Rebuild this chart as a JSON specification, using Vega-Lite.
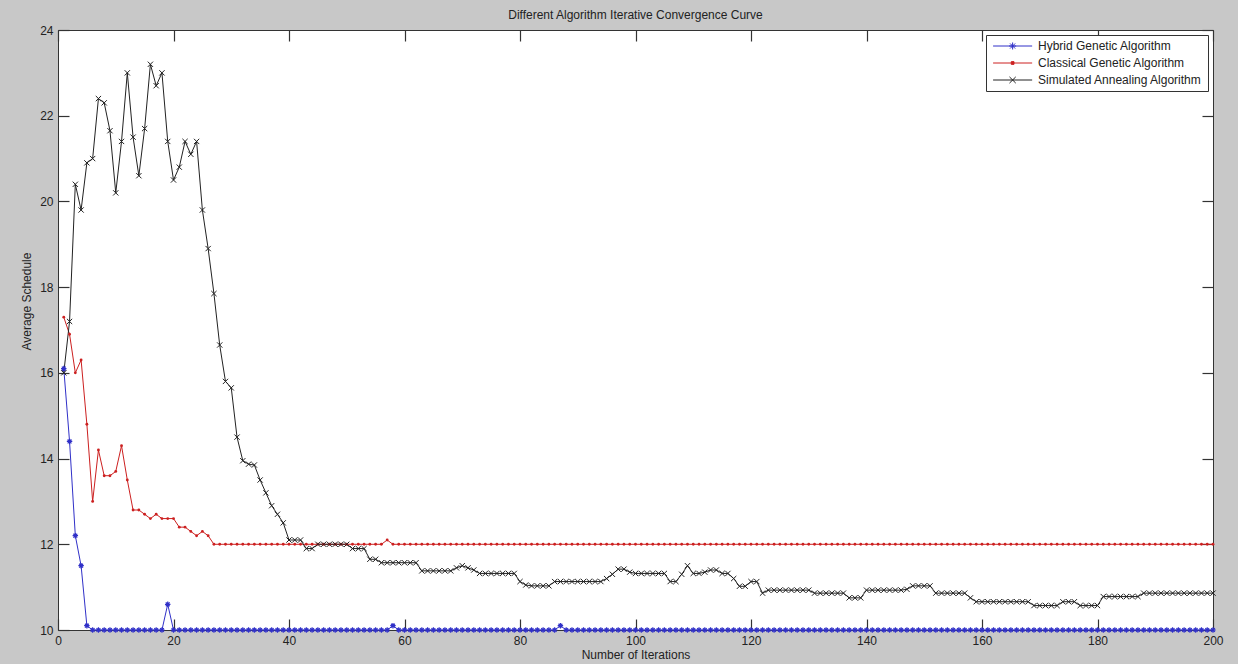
{
  "$schema": "https://vega.github.io/schema/vega-lite/v6.json",
  "width": 1155,
  "height": 600,
  "autosize": {"type": "none"},
  "padding": {"left": 58, "top": 30, "right": 25, "bottom": 34},
  "background": "#c8c8c8",
  "config": {
    "font": "Liberation Sans",
    "view": {"fill": "white", "stroke": "#333333", "strokeWidth": 1},
    "axis": {"ticks": true, "tickWidth": 1.2, "tickColor": "#333333", "tickOpacity": 1, "zindex": 1}
  },
  "title": {
    "text": "Different Algorithm Iterative Convergence Curve",
    "fontSize": 12,
    "fontWeight": "normal",
    "color": "#222222",
    "offset": 2,
    "anchor": "middle"
  },
  "data": {"values": [
    {"i":1,"hga":16.1,"cga":17.3,"saa":16.0},
    {"i":2,"hga":14.4,"cga":16.9,"saa":17.2},
    {"i":3,"hga":12.2,"cga":16.0,"saa":20.4},
    {"i":4,"hga":11.5,"cga":16.3,"saa":19.8},
    {"i":5,"hga":10.1,"cga":14.8,"saa":20.9},
    {"i":6,"hga":10,"cga":13.0,"saa":21.0},
    {"i":7,"hga":10,"cga":14.2,"saa":22.4},
    {"i":8,"hga":10,"cga":13.6,"saa":22.3},
    {"i":9,"hga":10,"cga":13.6,"saa":21.65},
    {"i":10,"hga":10,"cga":13.7,"saa":20.2},
    {"i":11,"hga":10,"cga":14.3,"saa":21.4},
    {"i":12,"hga":10,"cga":13.5,"saa":23.0},
    {"i":13,"hga":10,"cga":12.8,"saa":21.5},
    {"i":14,"hga":10,"cga":12.8,"saa":20.6},
    {"i":15,"hga":10,"cga":12.7,"saa":21.7},
    {"i":16,"hga":10,"cga":12.6,"saa":23.2},
    {"i":17,"hga":10,"cga":12.7,"saa":22.7},
    {"i":18,"hga":10,"cga":12.6,"saa":23.0},
    {"i":19,"hga":10.6,"cga":12.6,"saa":21.4},
    {"i":20,"hga":10,"cga":12.6,"saa":20.5},
    {"i":21,"hga":10,"cga":12.4,"saa":20.8},
    {"i":22,"hga":10,"cga":12.4,"saa":21.4},
    {"i":23,"hga":10,"cga":12.3,"saa":21.1},
    {"i":24,"hga":10,"cga":12.2,"saa":21.4},
    {"i":25,"hga":10,"cga":12.3,"saa":19.8},
    {"i":26,"hga":10,"cga":12.2,"saa":18.9},
    {"i":27,"hga":10,"cga":12.0,"saa":17.85},
    {"i":28,"hga":10,"cga":12,"saa":16.65},
    {"i":29,"hga":10,"cga":12,"saa":15.8},
    {"i":30,"hga":10,"cga":12,"saa":15.65},
    {"i":31,"hga":10,"cga":12,"saa":14.5},
    {"i":32,"hga":10,"cga":12,"saa":13.95},
    {"i":33,"hga":10,"cga":12,"saa":13.87},
    {"i":34,"hga":10,"cga":12,"saa":13.85},
    {"i":35,"hga":10,"cga":12,"saa":13.5},
    {"i":36,"hga":10,"cga":12,"saa":13.2},
    {"i":37,"hga":10,"cga":12,"saa":12.9},
    {"i":38,"hga":10,"cga":12,"saa":12.7},
    {"i":39,"hga":10,"cga":12,"saa":12.5},
    {"i":40,"hga":10,"cga":12,"saa":12.1},
    {"i":41,"hga":10,"cga":12,"saa":12.1},
    {"i":42,"hga":10,"cga":12,"saa":12.1},
    {"i":43,"hga":10,"cga":12,"saa":11.9},
    {"i":44,"hga":10,"cga":12,"saa":11.9},
    {"i":45,"hga":10,"cga":12,"saa":12.0},
    {"i":46,"hga":10,"cga":12,"saa":12.0},
    {"i":47,"hga":10,"cga":12,"saa":12.0},
    {"i":48,"hga":10,"cga":12,"saa":12.0},
    {"i":49,"hga":10,"cga":12,"saa":12.0},
    {"i":50,"hga":10,"cga":12,"saa":12.0},
    {"i":51,"hga":10,"cga":12,"saa":11.9},
    {"i":52,"hga":10,"cga":12,"saa":11.9},
    {"i":53,"hga":10,"cga":12,"saa":11.9},
    {"i":54,"hga":10,"cga":12,"saa":11.65},
    {"i":55,"hga":10,"cga":12,"saa":11.65},
    {"i":56,"hga":10,"cga":12,"saa":11.57},
    {"i":57,"hga":10,"cga":12.1,"saa":11.57},
    {"i":58,"hga":10.1,"cga":12,"saa":11.57},
    {"i":59,"hga":10,"cga":12,"saa":11.57},
    {"i":60,"hga":10,"cga":12,"saa":11.57},
    {"i":61,"hga":10,"cga":12,"saa":11.57},
    {"i":62,"hga":10,"cga":12,"saa":11.57},
    {"i":63,"hga":10,"cga":12,"saa":11.38},
    {"i":64,"hga":10,"cga":12,"saa":11.38},
    {"i":65,"hga":10,"cga":12,"saa":11.38},
    {"i":66,"hga":10,"cga":12,"saa":11.38},
    {"i":67,"hga":10,"cga":12,"saa":11.38},
    {"i":68,"hga":10,"cga":12,"saa":11.38},
    {"i":69,"hga":10,"cga":12,"saa":11.45},
    {"i":70,"hga":10,"cga":12,"saa":11.5},
    {"i":71,"hga":10,"cga":12,"saa":11.45},
    {"i":72,"hga":10,"cga":12,"saa":11.4},
    {"i":73,"hga":10,"cga":12,"saa":11.32},
    {"i":74,"hga":10,"cga":12,"saa":11.32},
    {"i":75,"hga":10,"cga":12,"saa":11.32},
    {"i":76,"hga":10,"cga":12,"saa":11.32},
    {"i":77,"hga":10,"cga":12,"saa":11.32},
    {"i":78,"hga":10,"cga":12,"saa":11.32},
    {"i":79,"hga":10,"cga":12,"saa":11.32},
    {"i":80,"hga":10,"cga":12,"saa":11.13},
    {"i":81,"hga":10,"cga":12,"saa":11.05},
    {"i":82,"hga":10,"cga":12,"saa":11.03},
    {"i":83,"hga":10,"cga":12,"saa":11.03},
    {"i":84,"hga":10,"cga":12,"saa":11.03},
    {"i":85,"hga":10,"cga":12,"saa":11.03},
    {"i":86,"hga":10,"cga":12,"saa":11.13},
    {"i":87,"hga":10.1,"cga":12,"saa":11.13},
    {"i":88,"hga":10,"cga":12,"saa":11.13},
    {"i":89,"hga":10,"cga":12,"saa":11.13},
    {"i":90,"hga":10,"cga":12,"saa":11.13},
    {"i":91,"hga":10,"cga":12,"saa":11.13},
    {"i":92,"hga":10,"cga":12,"saa":11.13},
    {"i":93,"hga":10,"cga":12,"saa":11.13},
    {"i":94,"hga":10,"cga":12,"saa":11.13},
    {"i":95,"hga":10,"cga":12,"saa":11.2},
    {"i":96,"hga":10,"cga":12,"saa":11.3},
    {"i":97,"hga":10,"cga":12,"saa":11.42},
    {"i":98,"hga":10,"cga":12,"saa":11.42},
    {"i":99,"hga":10,"cga":12,"saa":11.35},
    {"i":100,"hga":10,"cga":12,"saa":11.32},
    {"i":101,"hga":10,"cga":12,"saa":11.32},
    {"i":102,"hga":10,"cga":12,"saa":11.32},
    {"i":103,"hga":10,"cga":12,"saa":11.32},
    {"i":104,"hga":10,"cga":12,"saa":11.32},
    {"i":105,"hga":10,"cga":12,"saa":11.32},
    {"i":106,"hga":10,"cga":12,"saa":11.13},
    {"i":107,"hga":10,"cga":12,"saa":11.13},
    {"i":108,"hga":10,"cga":12,"saa":11.3},
    {"i":109,"hga":10,"cga":12,"saa":11.5},
    {"i":110,"hga":10,"cga":12,"saa":11.32},
    {"i":111,"hga":10,"cga":12,"saa":11.32},
    {"i":112,"hga":10,"cga":12,"saa":11.35},
    {"i":113,"hga":10,"cga":12,"saa":11.4},
    {"i":114,"hga":10,"cga":12,"saa":11.4},
    {"i":115,"hga":10,"cga":12,"saa":11.32},
    {"i":116,"hga":10,"cga":12,"saa":11.32},
    {"i":117,"hga":10,"cga":12,"saa":11.2},
    {"i":118,"hga":10,"cga":12,"saa":11.02},
    {"i":119,"hga":10,"cga":12,"saa":11.02},
    {"i":120,"hga":10,"cga":12,"saa":11.13},
    {"i":121,"hga":10,"cga":12,"saa":11.13},
    {"i":122,"hga":10,"cga":12,"saa":10.86},
    {"i":123,"hga":10,"cga":12,"saa":10.93},
    {"i":124,"hga":10,"cga":12,"saa":10.93},
    {"i":125,"hga":10,"cga":12,"saa":10.93},
    {"i":126,"hga":10,"cga":12,"saa":10.93},
    {"i":127,"hga":10,"cga":12,"saa":10.93},
    {"i":128,"hga":10,"cga":12,"saa":10.93},
    {"i":129,"hga":10,"cga":12,"saa":10.93},
    {"i":130,"hga":10,"cga":12,"saa":10.93},
    {"i":131,"hga":10,"cga":12,"saa":10.86},
    {"i":132,"hga":10,"cga":12,"saa":10.86},
    {"i":133,"hga":10,"cga":12,"saa":10.86},
    {"i":134,"hga":10,"cga":12,"saa":10.86},
    {"i":135,"hga":10,"cga":12,"saa":10.86},
    {"i":136,"hga":10,"cga":12,"saa":10.86},
    {"i":137,"hga":10,"cga":12,"saa":10.75},
    {"i":138,"hga":10,"cga":12,"saa":10.75},
    {"i":139,"hga":10,"cga":12,"saa":10.75},
    {"i":140,"hga":10,"cga":12,"saa":10.93},
    {"i":141,"hga":10,"cga":12,"saa":10.93},
    {"i":142,"hga":10,"cga":12,"saa":10.93},
    {"i":143,"hga":10,"cga":12,"saa":10.93},
    {"i":144,"hga":10,"cga":12,"saa":10.93},
    {"i":145,"hga":10,"cga":12,"saa":10.93},
    {"i":146,"hga":10,"cga":12,"saa":10.93},
    {"i":147,"hga":10,"cga":12,"saa":10.95},
    {"i":148,"hga":10,"cga":12,"saa":11.03},
    {"i":149,"hga":10,"cga":12,"saa":11.03},
    {"i":150,"hga":10,"cga":12,"saa":11.03},
    {"i":151,"hga":10,"cga":12,"saa":11.03},
    {"i":152,"hga":10,"cga":12,"saa":10.86},
    {"i":153,"hga":10,"cga":12,"saa":10.86},
    {"i":154,"hga":10,"cga":12,"saa":10.86},
    {"i":155,"hga":10,"cga":12,"saa":10.86},
    {"i":156,"hga":10,"cga":12,"saa":10.86},
    {"i":157,"hga":10,"cga":12,"saa":10.86},
    {"i":158,"hga":10,"cga":12,"saa":10.75},
    {"i":159,"hga":10,"cga":12,"saa":10.66},
    {"i":160,"hga":10,"cga":12,"saa":10.66},
    {"i":161,"hga":10,"cga":12,"saa":10.66},
    {"i":162,"hga":10,"cga":12,"saa":10.66},
    {"i":163,"hga":10,"cga":12,"saa":10.66},
    {"i":164,"hga":10,"cga":12,"saa":10.66},
    {"i":165,"hga":10,"cga":12,"saa":10.66},
    {"i":166,"hga":10,"cga":12,"saa":10.66},
    {"i":167,"hga":10,"cga":12,"saa":10.66},
    {"i":168,"hga":10,"cga":12,"saa":10.66},
    {"i":169,"hga":10,"cga":12,"saa":10.57},
    {"i":170,"hga":10,"cga":12,"saa":10.57},
    {"i":171,"hga":10,"cga":12,"saa":10.57},
    {"i":172,"hga":10,"cga":12,"saa":10.57},
    {"i":173,"hga":10,"cga":12,"saa":10.57},
    {"i":174,"hga":10,"cga":12,"saa":10.66},
    {"i":175,"hga":10,"cga":12,"saa":10.66},
    {"i":176,"hga":10,"cga":12,"saa":10.66},
    {"i":177,"hga":10,"cga":12,"saa":10.57},
    {"i":178,"hga":10,"cga":12,"saa":10.57},
    {"i":179,"hga":10,"cga":12,"saa":10.57},
    {"i":180,"hga":10,"cga":12,"saa":10.57},
    {"i":181,"hga":10,"cga":12,"saa":10.78},
    {"i":182,"hga":10,"cga":12,"saa":10.78},
    {"i":183,"hga":10,"cga":12,"saa":10.78},
    {"i":184,"hga":10,"cga":12,"saa":10.78},
    {"i":185,"hga":10,"cga":12,"saa":10.78},
    {"i":186,"hga":10,"cga":12,"saa":10.78},
    {"i":187,"hga":10,"cga":12,"saa":10.78},
    {"i":188,"hga":10,"cga":12,"saa":10.86},
    {"i":189,"hga":10,"cga":12,"saa":10.86},
    {"i":190,"hga":10,"cga":12,"saa":10.86},
    {"i":191,"hga":10,"cga":12,"saa":10.86},
    {"i":192,"hga":10,"cga":12,"saa":10.86},
    {"i":193,"hga":10,"cga":12,"saa":10.86},
    {"i":194,"hga":10,"cga":12,"saa":10.86},
    {"i":195,"hga":10,"cga":12,"saa":10.86},
    {"i":196,"hga":10,"cga":12,"saa":10.86},
    {"i":197,"hga":10,"cga":12,"saa":10.86},
    {"i":198,"hga":10,"cga":12,"saa":10.86},
    {"i":199,"hga":10,"cga":12,"saa":10.86},
    {"i":200,"hga":10,"cga":12,"saa":10.86}
  ]},
  "transform": [{"fold": ["hga", "cga", "saa"], "as": ["series", "value"]}],
  "resolve": {"axis": {"x": "independent", "y": "independent"}},
  "layer": [
    {
      "mark": {"type": "line", "strokeWidth": 1, "clip": false},
      "encoding": {
        "x": {
          "field": "i", "type": "quantitative",
          "scale": {"domain": [0, 200], "nice": false},
          "axis": {
            "orient": "bottom", "offset": -11, "values": [0, 20, 40, 60, 80, 100, 120, 140, 160, 180, 200],
            "title": "Number of Iterations", "domain": false, "grid": false,
            "ticks": true, "tickSize": 11, "labelPadding": 5,
            "labelFlush": false, "labelOverlap": false, "labelFontSize": 12, "labelColor": "#222222",
            "titleFontSize": 12, "titleFontWeight": "normal", "titleColor": "#222222", "titlePadding": 3
          }
        },
        "y": {
          "field": "value", "type": "quantitative",
          "scale": {"domain": [10, 24], "nice": false, "zero": false},
          "axis": {
            "orient": "left", "offset": -11, "values": [10, 12, 14, 16, 18, 20, 22, 24],
            "title": "Average Schedule", "titleY": 271, "domain": false, "grid": false,
            "ticks": true, "tickSize": 11, "labelPadding": 5,
            "labelFlush": false, "labelOverlap": false, "labelFontSize": 12, "labelColor": "#222222",
            "titleFontSize": 12, "titleFontWeight": "normal", "titleColor": "#222222", "titlePadding": 6
          }
        },
        "color": {
          "field": "series", "type": "nominal",
          "scale": {"domain": ["hga", "cga", "saa"], "range": ["#3030c8", "#cc2020", "#222222"]},
          "legend": {
            "title": null, "orient": "top-right", "offset": 5,
            "strokeColor": "#333333", "fillColor": "white", "padding": 5, "rowPadding": 5,
            "symbolSize": 61, "symbolStrokeWidth": 1, "labelOffset": 35, "labelLimit": 300,
            "labelFontSize": 12, "labelColor": "#222222",
            "labelExpr": "datum.value == 'hga' ? 'Hybrid Genetic Algorithm' : datum.value == 'cga' ? 'Classical Genetic Algorithm' : 'Simulated Annealing Algorithm'",
            "encode": {
              "symbols": {
                "update": {
                  "shape": {"signal": "datum.value == 'hga' ? 'M-1,0H9M4,-0.9V0.9M3.1,0H4.9M3.35,-0.65L4.65,0.65M3.35,0.65L4.65,-0.65' : datum.value == 'cga' ? 'M-1,0H9M3.65,-0.35H4.35V0.35H3.65Z' : 'M-1,0H9M3.2,-0.8L4.8,0.8M3.2,0.8L4.8,-0.8'"},
                  "fill": {"signal": "datum.value == 'cga' ? '#cc2020' : 'transparent'"},
                  "opacity": {"value": 1}
                }
              }
            }
          }
        }
      }
    },
    {
      "transform": [{"filter": {"field": "series", "equal": "hga"}}],
      "mark": {"type": "point", "shape": "M-1,0H1M0,-1V1M-0.7,-0.7L0.7,0.7M-0.7,0.7L0.7,-0.7", "size": 30, "filled": false, "stroke": "#3030c8", "strokeWidth": 1.2, "opacity": 1, "clip": false},
      "encoding": {
        "x": {"field": "i", "type": "quantitative", "axis": null},
        "y": {"field": "value", "type": "quantitative", "axis": null}
      }
    },
    {
      "transform": [{"filter": {"field": "series", "equal": "cga"}}],
      "mark": {"type": "point", "shape": "circle", "size": 8, "filled": true, "fill": "#cc2020", "opacity": 1, "clip": false},
      "encoding": {
        "x": {"field": "i", "type": "quantitative", "axis": null},
        "y": {"field": "value", "type": "quantitative", "axis": null}
      }
    },
    {
      "transform": [{"filter": {"field": "series", "equal": "saa"}}],
      "mark": {"type": "point", "shape": "M-1,-1L1,1M-1,1L1,-1", "size": 28, "filled": false, "stroke": "#222222", "strokeWidth": 1, "opacity": 1, "clip": false},
      "encoding": {
        "x": {
          "field": "i", "type": "quantitative",
          "axis": {"orient": "top", "offset": -11, "values": [0, 20, 40, 60, 80, 100, 120, 140, 160, 180, 200], "labels": false, "title": null, "domain": false, "grid": false, "ticks": true, "tickSize": 11}
        },
        "y": {
          "field": "value", "type": "quantitative",
          "axis": {"orient": "right", "offset": -11, "values": [10, 12, 14, 16, 18, 20, 22, 24], "labels": false, "title": null, "domain": false, "grid": false, "ticks": true, "tickSize": 11}
        }
      }
    }
  ]
}
